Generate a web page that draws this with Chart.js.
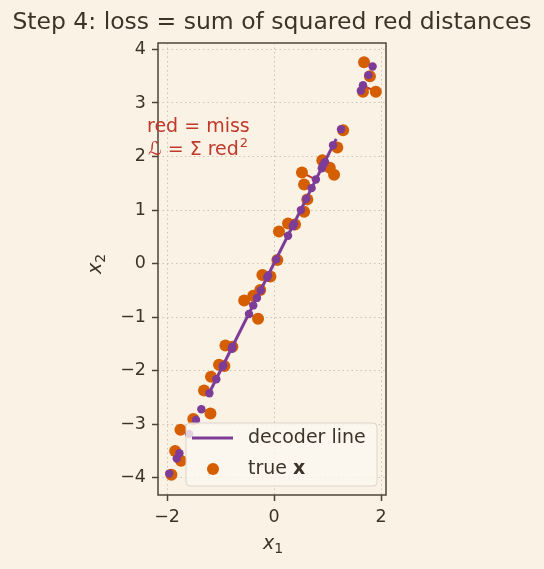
<!DOCTYPE html>
<html>
<head>
<meta charset="utf-8">
<script src="https://cdn.jsdelivr.net/npm/chart.js@4.4.0/dist/chart.umd.min.js"></script>
<style>
body { margin: 0; background: #faf2e5; }
canvas { display: block; }
</style>
</head>
<body>
<canvas id="lossChart" width="544" height="569"></canvas>
<script>
// true data points x = (x1, x2)
const trueX1 = [1.68, 1.79, 1.66, 1.90, 1.29, 1.18, 0.90, 1.04, 1.12, 0.52, 0.56, 0.62, 0.56, 0.26, 0.39, 0.09, 0.06, -0.22, -0.07, -0.26, -0.39, -0.56, -0.30, -0.91, -0.78, -1.03, -0.93, -1.18, -1.31, -1.19, -1.51, -1.75, -1.85, -1.74, -1.92];
const trueX2 = [3.76, 3.50, 3.21, 3.21, 2.49, 2.17, 1.93, 1.79, 1.66, 1.70, 1.48, 1.20, 0.97, 0.75, 0.73, 0.60, 0.07, -0.21, -0.24, -0.49, -0.60, -0.69, -1.03, -1.53, -1.55, -1.89, -1.91, -2.11, -2.37, -2.80, -2.90, -3.10, -3.50, -3.68, -3.94];
// where each point lands on the decoder line
const projX1 = [1.84, 1.76, 1.62, 1.66, 1.25, 1.10, 0.95, 0.92, 0.89, 0.78, 0.70, 0.60, 0.50, 0.35, 0.37, 0.26, 0.04, -0.13, -0.11, -0.25, -0.32, -0.39, -0.47, -0.79, -0.78, -0.96, -0.95, -1.08, -1.21, -1.36, -1.46, -1.59, -1.77, -1.82, -1.96];
const projX2 = [3.68, 3.52, 3.23, 3.33, 2.51, 2.21, 1.90, 1.85, 1.78, 1.57, 1.41, 1.21, 1.00, 0.70, 0.74, 0.52, 0.08, -0.26, -0.22, -0.50, -0.64, -0.78, -0.94, -1.59, -1.55, -1.92, -1.90, -2.16, -2.42, -2.72, -2.92, -3.18, -3.54, -3.64, -3.92];
// decoder line end points
const lineX1 = [-1.22, 1.16];
const lineX2 = [-2.43, 2.33];
const xTicks = [-2, 0, 2];
const yTicks = [-4, -3, -2, -1, 0, 1, 2, 3, 4];

const bg = '#faf2e5';
const ink = '#3d3429';
const spine = '#4f4438';
const gridCol = '#cbc3b6';
const orange = '#d55e00';
const purple = '#7d3c98';
const red = '#c0392b';
const FONT = '"DejaVu Sans"';

Chart.defaults.font.family = 'DejaVu Sans';
Chart.defaults.color = ink;

// red miss segments, broken with a null between pairs
let missSegments = [];
for (let i = 0; i < trueX1.length; i++){
    missSegments.push({x: trueX1[i], y: trueX2[i]});
    missSegments.push({x: projX1[i], y: projX2[i]});
    missSegments.push({x: trueX1[i], y: null});
}

function minus(v){
    return String(v).replace('-', '\u2212');
}

function mathLabel(ctx, base, sub, x, y){
    ctx.font = 'italic 19px ' + FONT;
    let w1 = ctx.measureText(base).width;
    ctx.font = '14px ' + FONT;
    let w2 = ctx.measureText(sub).width;
    let left = x - (w1 + w2) / 2;
    ctx.textAlign = 'left';
    ctx.textBaseline = 'alphabetic';
    ctx.font = 'italic 19px ' + FONT;
    ctx.fillText(base, left, y + 4);
    ctx.font = '14px ' + FONT;
    ctx.fillText(sub, left + w1, y + 8);
}

const extras = {
    id: 'extras',
    beforeDraw(chart){
        let ctx = chart.ctx;
        ctx.save();
        ctx.fillStyle = bg;
        ctx.fillRect(0, 0, chart.width, chart.height);
        ctx.restore();
    },
    afterDraw(chart){
        let ctx = chart.ctx;
        let ca = chart.chartArea;
        ctx.save();

        // frame
        ctx.strokeStyle = spine;
        ctx.lineWidth = 1.5;
        ctx.strokeRect(ca.left, ca.top, ca.right - ca.left, ca.bottom - ca.top);

        // title
        ctx.fillStyle = ink;
        ctx.font = '23.5px ' + FONT;
        ctx.textAlign = 'center';
        ctx.textBaseline = 'middle';
        ctx.fillText('Step 4: loss = sum of squared red distances', 272, 23);

        // axis labels
        mathLabel(ctx, 'x', '1', 273, 545);
        ctx.save();
        ctx.translate(97, 264);
        ctx.rotate(-Math.PI / 2);
        mathLabel(ctx, 'x', '2', 0, 0);
        ctx.restore();

        // note
        ctx.fillStyle = red;
        ctx.textAlign = 'left';
        ctx.textBaseline = 'middle';
        ctx.font = '19px ' + FONT;
        ctx.fillText('red = miss', 147, 127);
        let t = '\u2112 = \u03a3 red';
        ctx.fillText(t, 148, 150);
        let tw = ctx.measureText(t).width;
        ctx.font = '13px ' + FONT;
        ctx.fillText('2', 148 + tw + 1, 144);

        // legend
        ctx.beginPath();
        ctx.roundRect(186, 423, 191, 63, 4);
        ctx.fillStyle = 'rgba(251, 247, 240, 0.8)';
        ctx.fill();
        ctx.strokeStyle = '#dcd4c8';
        ctx.lineWidth = 1;
        ctx.stroke();

        ctx.strokeStyle = purple;
        ctx.lineWidth = 3;
        ctx.beginPath();
        ctx.moveTo(192, 438);
        ctx.lineTo(233, 438);
        ctx.stroke();

        ctx.fillStyle = orange;
        ctx.beginPath();
        ctx.arc(213, 469, 6, 0, Math.PI * 2);
        ctx.fill();

        ctx.fillStyle = ink;
        ctx.font = '19px ' + FONT;
        ctx.fillText('decoder line', 248, 438);
        ctx.fillText('true ', 248, 469);
        let w = ctx.measureText('true ').width;
        ctx.font = 'bold 19px ' + FONT;
        ctx.fillText('x', 248 + w, 469);

        ctx.restore();
    }
};

new Chart('lossChart', {
    type: 'scatter',
    data: {
        datasets: [{
            label: 'miss',
            data: missSegments,
            showLine: true,
            spanGaps: false,
            borderColor: red,
            borderWidth: 2,
            pointRadius: 0,
            order: 4
        }, {
            label: 'true x',
            data: trueX1.map((x, i) => ({x: x, y: trueX2[i]})),
            backgroundColor: orange,
            borderWidth: 0,
            pointRadius: 6,
            order: 3
        }, {
            label: 'decoder line',
            data: lineX1.map((x, i) => ({x: x, y: lineX2[i]})),
            showLine: true,
            borderColor: purple,
            borderWidth: 3,
            pointRadius: 0,
            order: 2
        }, {
            label: 'projection',
            data: projX1.map((x, i) => ({x: x, y: projX2[i]})),
            backgroundColor: purple,
            borderWidth: 0,
            pointRadius: 4.2,
            order: 1
        }]
    },
    options: {
        responsive: false,
        animation: false,
        events: [],
        layout: {
            padding: {top: 43, right: 158, bottom: 0, left: 0}
        },
        plugins: {
            legend: {display: false},
            tooltip: {enabled: false}
        },
        scales: {
            x: {
                type: 'linear',
                min: -2.17,
                max: 2.09,
                afterBuildTicks: (s) => { s.ticks = xTicks.map(v => ({value: v})); },
                afterFit: (s) => { s.height = 74; },
                ticks: {
                    callback: (v) => minus(v),
                    font: {size: 17.5},
                    color: ink,
                    padding: 6
                },
                grid: {
                    color: gridCol,
                    lineWidth: 1,
                    tickColor: spine,
                    tickLength: 6,
                    tickWidth: 1.5
                },
                border: {display: false, dash: [1.5, 3]}
            },
            y: {
                type: 'linear',
                min: -4.32,
                max: 4.12,
                afterBuildTicks: (s) => { s.ticks = yTicks.map(v => ({value: v})); },
                afterFit: (s) => { s.width = 158; },
                ticks: {
                    callback: (v) => minus(v),
                    font: {size: 17.5},
                    color: ink,
                    padding: 6
                },
                grid: {
                    color: gridCol,
                    lineWidth: 1,
                    tickColor: spine,
                    tickLength: 6,
                    tickWidth: 1.5
                },
                border: {display: false, dash: [1.5, 3]}
            }
        }
    },
    plugins: [extras]
});
</script>
</body>
</html>
